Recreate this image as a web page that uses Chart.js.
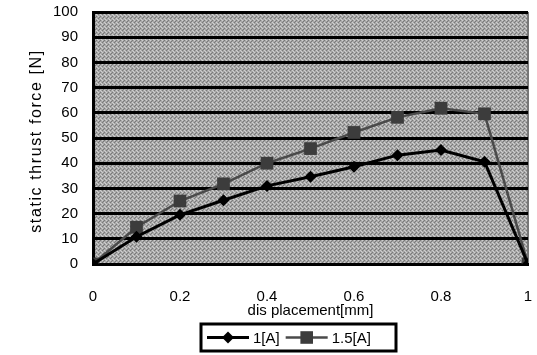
<!DOCTYPE html>
<html>
<head>
<meta charset="utf-8">
<script src="https://cdn.jsdelivr.net/npm/chart.js@4/dist/chart.umd.min.js"></script>
<style>
  html, body { margin: 0; padding: 0; background: #fff; }
  #wrap { width: 537px; height: 355px; }
</style>
</head>
<body>
<div id="wrap"><canvas id="c" width="537" height="355"></canvas></div>
<script>
// data
const displacement = [0, 0.1, 0.2, 0.3, 0.4, 0.5, 0.6, 0.7, 0.8, 0.9, 1];
const force1A  = [0, 10.8, 19.5, 25.3, 31, 34.6, 38.6, 43.2, 45.2, 40.6, 0];
const force15A = [0, 14.6, 25, 31.8, 40, 45.8, 52.2, 58.2, 61.8, 59.6, 0];
const seriesNames = ['1[A]', '1.5[A]'];
const xTicks = [0, 0.2, 0.4, 0.6, 0.8, 1];
const yTicks = [0, 10, 20, 30, 40, 50, 60, 70, 80, 90, 100];
const yTitle = 'static thrust force [N]';

const FONT = 'Liberation Sans, Arial, sans-serif';

// dithered gray, a bit like the scanned texture
function grayPattern() {
  const p = document.createElement('canvas');
  p.width = 4; p.height = 4;
  const g = p.getContext('2d');
  g.fillStyle = '#a8a8a8';
  g.fillRect(0, 0, 4, 4);
  g.fillStyle = '#7a7a7a';
  g.fillRect(0, 0, 1, 1); g.fillRect(2, 2, 1, 1);
  g.fillRect(3, 1, 1, 1);
  g.fillStyle = '#cfcfcf';
  g.fillRect(1, 3, 1, 1); g.fillRect(2, 0, 1, 1); g.fillRect(0, 2, 1, 1);
  return g.createPattern(p, 'repeat');
}

const plotBg = {
  id: 'plotBg',
  beforeDraw(chart) {
    const { ctx, chartArea: a } = chart;
    ctx.save();
    ctx.fillStyle = grayPattern();
    ctx.fillRect(a.left, a.top, a.right - a.left, a.bottom - a.top);
    ctx.strokeStyle = '#777';
    ctx.lineWidth = 2;
    ctx.beginPath();
    ctx.moveTo(a.right, a.top);
    ctx.lineTo(a.right, a.bottom);
    ctx.stroke();
    ctx.restore();
  },
  afterDraw(chart) {
    // y title, letter-spaced like the scan
    const { ctx, chartArea: a } = chart;
    ctx.save();
    ctx.translate(37, (a.top + a.bottom) / 2 + 3);
    ctx.rotate(-Math.PI / 2);
    ctx.font = '16px ' + FONT;
    ctx.letterSpacing = '1.6px';
    ctx.fillStyle = '#000';
    ctx.textAlign = 'center';
    ctx.textBaseline = 'middle';
    ctx.fillText(yTitle, 0, 0);
    ctx.restore();
  }
};

// boxed legend under the axis title, drawn from the dataset styles
const boxLegend = {
  id: 'boxLegend',
  afterDraw(chart) {
    const ctx = chart.ctx;
    const x0 = 201, y0 = 324, w = 195, h = 27;
    ctx.save();
    ctx.fillStyle = '#fff';
    ctx.fillRect(x0, y0, w, h);
    ctx.strokeStyle = '#000';
    ctx.lineWidth = 3;
    ctx.strokeRect(x0, y0, w, h);
    ctx.font = '15px ' + FONT;
    ctx.textBaseline = 'middle';
    const cy = y0 + h / 2;
    let x = x0 + 6;
    chart.data.datasets.forEach(ds => {
      ctx.strokeStyle = ds.borderColor;
      ctx.lineWidth = ds.borderWidth;
      ctx.beginPath();
      ctx.moveTo(x, cy); ctx.lineTo(x + 42, cy);
      ctx.stroke();
      ctx.fillStyle = ds.pointBackgroundColor;
      const r = ds.pointRadius;
      ctx.beginPath();
      if (ds.pointStyle === 'rectRot') {
        ctx.moveTo(x + 21, cy - r); ctx.lineTo(x + 21 + r, cy);
        ctx.lineTo(x + 21, cy + r); ctx.lineTo(x + 21 - r, cy);
      } else {
        const s = r * 0.7;
        ctx.rect(x + 21 - s, cy - s, 2 * s, 2 * s);
      }
      ctx.fill();
      ctx.fillStyle = '#000';
      ctx.fillText(ds.label, x + 46, cy + 1);
      x += 46 + ctx.measureText(ds.label).width + 6;
    });
    ctx.restore();
  }
};

new Chart(document.getElementById('c'), {
  type: 'line',
  data: {
    datasets: [
      {
        label: seriesNames[0],
        data: displacement.map((d, i) => ({ x: d, y: force1A[i] })),
        borderColor: '#000',
        borderWidth: 3,
        pointStyle: 'rectRot',
        pointRadius: 6,
        pointBackgroundColor: '#000',
        pointBorderWidth: 0,
        order: 1
      },
      {
        label: seriesNames[1],
        data: displacement.map((d, i) => ({ x: d, y: force15A[i] })),
        borderColor: '#4a4a4a',
        borderWidth: 2.5,
        pointStyle: 'rect',
        pointRadius: 9,
        pointBackgroundColor: '#3c3c3c',
        pointBorderWidth: 0,
        order: 2
      }
    ]
  },
  options: {
    responsive: false,
    animation: false,
    devicePixelRatio: 1,
    layout: { padding: { top: 12, right: 8, bottom: 35, left: 0 } },
    plugins: { legend: { display: false }, tooltip: { enabled: false } },
    scales: {
      x: {
        type: 'linear',
        min: 0, max: 1,
        afterFit: s => { s.height = 56; s.paddingLeft = 0; s.paddingRight = 0; },
        afterBuildTicks: s => { s.ticks = xTicks.map(v => ({ value: v })); },
        ticks: {
          color: '#000',
          font: { family: FONT, size: 15 },
          padding: 24,
          maxRotation: 0,
          callback: v => String(v)
        },
        grid: { display: false, drawTicks: false },
        border: { display: true, color: '#000', width: 3 },
        title: {
          display: true,
          text: 'dis placement[mm]',
          color: '#000',
          font: { family: FONT, size: 15 },
          padding: { top: 0, bottom: 0 }
        }
      },
      y: {
        min: 0, max: 100,
        afterFit: s => { s.width = 93; s.paddingTop = 0; s.paddingBottom = 0; },
        afterBuildTicks: s => { s.ticks = yTicks.map(v => ({ value: v })); },
        ticks: {
          color: '#000',
          font: { family: FONT, size: 15 },
          padding: 15
        },
        grid: { color: '#000', lineWidth: 3, drawTicks: false },
        border: { display: true, color: '#000', width: 3 },
        title: { display: false }
      }
    }
  },
  plugins: [plotBg, boxLegend]
});
</script>
</body>
</html>
